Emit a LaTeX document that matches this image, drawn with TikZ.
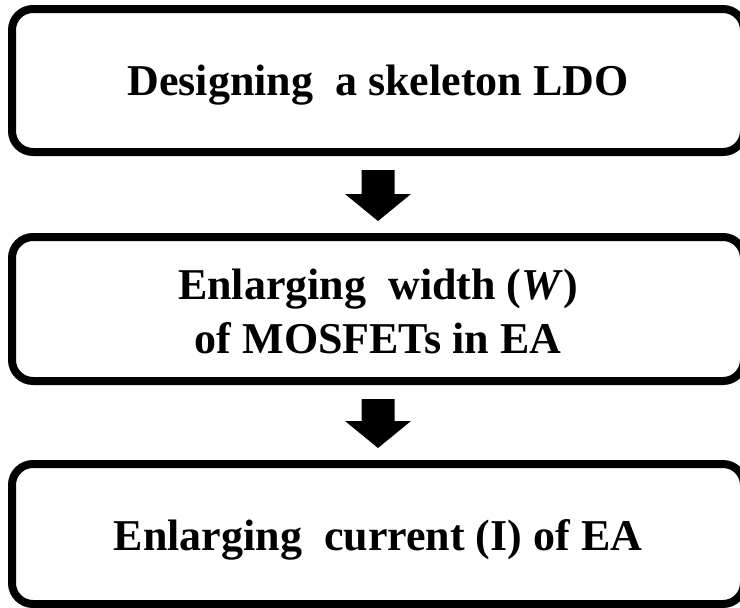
\documentclass[tikz,border=0pt]{standalone}
\usepackage{fontspec}
\setmainfont{Liberation Serif}
\usetikzlibrary{calc}
\newcommand{\lowerby}[2]{\raisebox{-#1}[\height][\depth]{#2}}
\begin{document}
\begin{tikzpicture}[x=1pt,y=-1pt]
\useasboundingbox (0,0) rectangle (740,608);
\tikzset{
  stepbox/.style={draw, line width=8pt, rounded corners=21pt, minimum width=732pt,
    inner sep=0pt, align=center, font=\fontsize{44}{54}\selectfont\bfseries},
  blockarrow/.style={fill=black}
}
\node[stepbox, minimum height=143pt] (b1) at (378,80.5) {\lowerby{5pt}{Designing\ \ a skeleton LDO}};
\node[stepbox, minimum height=144pt] (b2) at (378,309) {\lowerby{2pt}{Enlarging\ \ width (\textit{W})}\\\lowerby{2pt}{of MOSFETs in EA}};
\node[stepbox, minimum height=140pt] (b3) at (378,534) {\lowerby{6pt}{Enlarging\ \ current (I) of EA}};
\coordinate (a1s) at ($(b1.south)+(0,14)$);
\coordinate (a1e) at ($(b2.north)+(0,-12)$);
\coordinate (a2s) at ($(b2.south)+(0,14)$);
\coordinate (a2e) at ($(b3.north)+(0,-12)$);
\foreach \s/\e in {a1s/a1e, a2s/a2e}{
  \fill[blockarrow] ($(\s)+(-16.5,0)$) -- ($(\s)+(16.5,0)$) -- ($(\e)+(16.5,-27)$) -- ($(\e)+(33,-27)$)
    -- (\e) -- ($(\e)+(-33,-27)$) -- ($(\e)+(-16.5,-27)$) -- cycle;
}
\end{tikzpicture}
\end{document}
